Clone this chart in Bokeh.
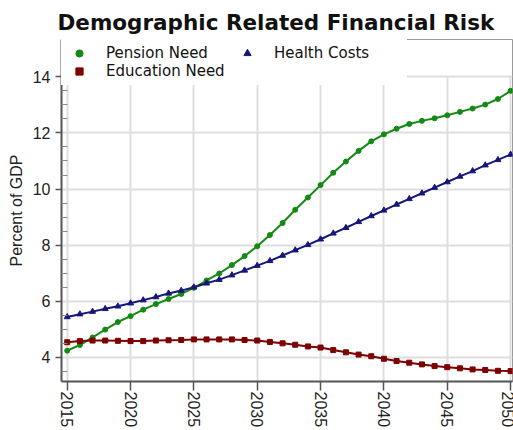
from bokeh.plotting import figure
from bokeh.models import Legend, LegendItem, Range1d, FixedTicker
from bokeh.embed import file_html
from bokeh.resources import INLINE

# ---- data ----
years = list(range(2015, 2051))
pension = [4.24, 4.44, 4.71, 4.99, 5.26, 5.47, 5.70, 5.90, 6.08, 6.26,
           6.48, 6.74, 6.99, 7.29, 7.61, 7.96, 8.36, 8.79, 9.26, 9.70,
           10.14, 10.58, 10.98, 11.36, 11.70, 11.95, 12.15, 12.32, 12.43, 12.52,
           12.63, 12.75, 12.87, 13.01, 13.21, 13.50]
health = [5.44, 5.54, 5.63, 5.73, 5.82, 5.93, 6.04, 6.15, 6.28, 6.38,
          6.50, 6.64, 6.77, 6.93, 7.10, 7.27, 7.44, 7.63, 7.82, 8.01,
          8.21, 8.42, 8.62, 8.83, 9.04, 9.24, 9.45, 9.65, 9.85, 10.05,
          10.25, 10.45, 10.64, 10.85, 11.04, 11.23]
education = [4.54, 4.58, 4.60, 4.60, 4.59, 4.58, 4.58, 4.60, 4.61, 4.62,
             4.64, 4.64, 4.64, 4.64, 4.62, 4.60, 4.55, 4.50, 4.45, 4.39,
             4.35, 4.26, 4.18, 4.10, 4.04, 3.95, 3.87, 3.81, 3.75, 3.69,
             3.65, 3.61, 3.57, 3.55, 3.52, 3.51]
x_ticks = [2015, 2020, 2025, 2030, 2035, 2040, 2045, 2050]
y_ticks = [4, 6, 8, 10, 12, 14]
y_minor = [3.5] + [t + d for t in y_ticks[:-1] for d in (0.5, 1.0, 1.5)]

GREEN = "#138a13"
NAVY = "#16167a"
MAROON = "#7d0000"
NAN = float("nan")

p = figure(width=513, height=430, output_backend="svg", toolbar_location=None,
           x_range=Range1d(2014.55, 2050.15), y_range=Range1d(3.14, 15.33),
           min_border_left=61, min_border_right=1, min_border_top=39,
           min_border_bottom=47, title="Demographic Related Financial Risk")

p.title.text_font = "DejaVu Sans"
p.title.text_font_size = "21.5px"
p.title.text_font_style = "bold"
p.title.text_color = "#111111"
p.title.align = "left"
p.title.offset = -4
p.title.standoff = 9

p.outline_line_color = "#9a9a9a"
p.outline_line_width = 1
p.background_fill_color = "white"
p.border_fill_color = "white"

# grids
p.xgrid.ticker = FixedTicker(ticks=x_ticks)
p.ygrid.ticker = FixedTicker(ticks=y_ticks)
p.xgrid.grid_line_color = "#dedede"
p.ygrid.grid_line_color = "#dedede"
p.xgrid.grid_line_width = 2
p.ygrid.grid_line_width = 2
p.xgrid.cross_bounds = (3.14, 14)

# axes
p.xaxis.ticker = FixedTicker(ticks=x_ticks)
p.yaxis.ticker = FixedTicker(ticks=y_ticks, minor_ticks=y_minor)
for ax in (p.xaxis[0], p.yaxis[0]):
    ax.axis_line_color = "#555555"
    ax.axis_line_width = 2
    ax.major_tick_line_color = "#555555"
    ax.major_tick_line_width = 1.5
    ax.major_label_text_font = "Liberation Sans"
    ax.major_label_text_font_size = "16px"
    ax.major_label_text_color = "#222222"
p.xaxis.major_tick_out = 9
p.xaxis.major_tick_in = 0
p.xaxis.minor_tick_out = 0
p.xaxis.minor_tick_in = 0
p.xaxis.major_label_orientation = -1.5707963
p.xaxis.major_label_standoff = 1
p.xaxis.axis_label_standoff = 0
p.yaxis.major_tick_out = 6
p.yaxis.major_tick_in = 0
p.yaxis.minor_tick_in = 6
p.yaxis.minor_tick_out = 0
p.yaxis.minor_tick_line_color = "#888888"
p.yaxis.minor_tick_line_width = 1
p.yaxis.major_label_standoff = 5
p.yaxis.axis_label = "Percent of GDP"
p.yaxis.axis_label_text_font = "Liberation Sans"
p.yaxis.axis_label_text_font_size = "16px"
p.yaxis.axis_label_text_font_style = "normal"
p.yaxis.axis_label_text_color = "#222222"
p.yaxis.axis_label_standoff = 5

# series
p.line(years, pension, color=GREEN, line_width=2)
p.scatter(years, pension, marker="circle", size=5, color=GREEN)
p.line(years, health, color=NAVY, line_width=2)
p.scatter(years, health, marker="triangle", size=6, color=NAVY)
p.line(years, education, color=MAROON, line_width=2)
p.scatter(years, education, marker="square", size=5, color=MAROON)

# legend glyphs (not drawn in the plot area)
lp = p.scatter(x=[NAN], y=[NAN], marker="circle", size=11, color=GREEN)
lh = p.scatter(x=[NAN], y=[NAN], marker="triangle", size=11, color=NAVY)
le = p.scatter(x=[NAN], y=[NAN], marker="square", size=11, color=MAROON)

legend = Legend(items=[LegendItem(label="Pension Need", renderers=[lp]),
                       LegendItem(label="Education Need", renderers=[le]),
                       LegendItem(label="Health Costs", renderers=[lh])],
                ncols=2, location="top_left", margin=0, padding=5, spacing=0,
                glyph_width=26, glyph_height=18, label_standoff=14,
                label_width=128, label_height=18,
                label_text_font="DejaVu Sans", label_text_font_size="15px",
                label_text_color="#111111",
                background_fill_color="white", background_fill_alpha=1.0,
                border_line_alpha=0)
p.add_layout(legend)

open("out.html", "w").write(file_html(p, INLINE))
